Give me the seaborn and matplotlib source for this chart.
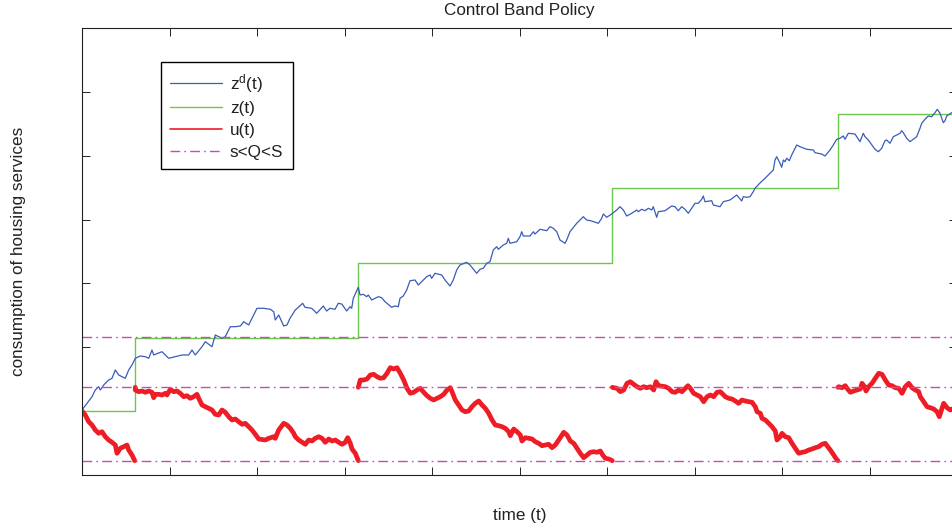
import matplotlib
matplotlib.use("Agg")
import matplotlib.pyplot as plt
from matplotlib.lines import Line2D
import numpy as np
import pandas as pd
import seaborn as sns

# Desired (frictionless) consumption z^d(t)
zd_t = [0, 10, 13.3, 16.7, 18.3, 21.7, 26.7, 30, 33.3, 36.7, 43.3, 46.7, 50, 53.3, 58.3,
        63.3, 66.7, 70, 71.7, 80, 86.7, 93.3, 100, 106.7, 110, 113.3, 120, 123.3, 130,
        133.3, 140, 143.3, 148.3, 153.3, 158.3, 161.7, 166.7, 173.3, 175, 181.7, 188.3,
        191.7, 193.3, 196.7, 201.7, 205, 208, 213.3, 220.7, 223, 229.7, 234.7, 241.3,
        244.7, 248, 253, 256.3, 259.7, 264.7, 268, 269.7, 271.3, 276.3, 278, 281.3, 284.7,
        286.3, 289.7, 293, 296.3, 299.7, 303, 309.7, 313, 316.3, 318, 321.3, 324.7, 328,
        333, 336.3, 339.7, 344.7, 348, 349.7, 353, 359.7, 363, 368, 371.3, 374.7, 378,
        384.7, 388, 394.7, 398, 401.3, 404.7, 408, 411.3, 414.7, 416.3, 421.3, 424.7,
        426.3, 428, 434.7, 438, 439.7, 441.3, 448, 451.3, 453, 458, 464.7, 468, 471.3,
        474.7, 478, 483, 484.7, 488, 494.7, 501.3, 504.7, 509.7, 516.3, 519.7, 521.3,
        524.7, 529.7, 534.7, 538, 541.3, 544.7, 549.7, 554.7, 556.3, 559.7, 563, 566.3,
        569.7, 571.3, 574.7, 576.3, 583, 589.7, 593, 596.3, 599.7, 603, 606.3, 613,
        616.3, 619.7, 621.3, 623, 629.7, 631.3, 638, 641.3, 648, 654.7, 659.7, 661.3,
        664.7, 668, 671.3, 673, 678, 683, 689.7, 691.3, 693, 694.7, 698, 699.7, 701.3,
        703, 704.7, 707.3, 709.7, 714.7, 718, 724.7, 731.3, 733, 739.7, 743, 744.7, 748,
        751.3, 754.7, 758, 761.3, 763, 766.3, 773, 774.7, 778, 781.3, 783, 786.3, 793,
        796.3, 799.7, 803, 804.7, 808, 811.3, 818, 819.7, 821.3, 824.7, 828, 831.3,
        834.7, 838, 839.7, 843, 846.3, 849.7, 853, 855.3, 858, 859.7, 861.3, 863, 864.7,
        869.7, 875]
zd = [65, 78.3, 85, 88.3, 85, 90, 95, 96.7, 105, 100, 96.7, 105, 110, 116.7, 119,
      118.3, 116.7, 125, 120, 123.3, 116.7, 118.3, 120, 120, 125, 120, 128.3, 133.3, 128.3,
      140, 136.7, 138.3, 148.3, 148.3, 149, 153.3, 150, 163.3, 166.7, 166.7, 165.7,
      163.3, 155, 160, 149, 150, 156.7, 165, 171.7, 167.7, 166.7, 161.7, 169,
      164, 166.7, 165.7, 171.7, 171, 164, 168.3, 166.7, 176.7, 187.7, 180, 180.7, 178.3,
      180, 175, 176.7, 178.3, 177.3, 173.3, 167.7, 169, 168.3, 176.7, 179, 185, 194.3,
      195, 190, 193.3, 198.3, 200, 196.7, 201.7, 200, 195, 189, 195, 205, 210,
      212.7, 210, 201.7, 205.7, 206.7, 211.7, 213.3, 225, 228.3, 225.7, 230, 231.7,
      236.7, 231.7, 233.3, 238.3, 243.3, 239, 239, 243.3, 241, 245.7, 244.3, 248.3, 246.7,
      243.3, 235, 231.7, 235, 243.3, 251.7, 258.3, 255, 254, 251.7, 256.7, 261,
      257.7, 261, 265, 268.3, 265, 259, 261.7, 265, 263.3, 265.7, 264.3, 266.7,
      265, 268.3, 257.7, 263.3, 264.3, 269, 268.3, 264.3, 268.3, 265.7, 261.7, 271.7,
      271.7, 275.7, 279, 273.3, 274.3, 270, 268.3, 273.3, 275, 280, 274, 278.3,
      277.7, 278.3, 283.3, 286.7, 292, 296.7, 303.3, 305, 315, 318.3, 311.7, 307.7, 315,
      313.3, 316.7, 314.3, 320, 330, 328.3, 325.7, 325, 322.3, 321, 319, 321, 325,
      330, 335.7, 336.7, 339, 335.7, 341.7, 341, 338.3, 333.3, 341.7, 338.3, 335, 325.7,
      323.3, 326.7, 334.3, 335, 331.7, 338.3, 341.7, 344.3, 342.3, 336.7, 333.3, 335.7,
      338.3, 346.7, 351.7, 355.7, 359, 358.3, 362.3, 365.7, 361.7, 356.7, 352.3, 354.3, 359,
      362.3, 362]

# Actual consumption z(t): adjusted in discrete jumps
z_t = [0, 52.7, 276.3, 530.3, 756, 875]
z = [64, 136.7, 211.7, 287, 360.7, 360.7]

# Control variable u(t), one run per inaction period
u_t = [0, 3.3, 6.7, 10, 13.3, 16.7, 20, 23.3, 26.7, 30, 33.3, 35, 38.3, 41.7, 45, 46.7, 50, 52.7,
       53.3, 53.3, 56.7, 60, 63.3, 66.7, 70, 71.7, 73.3, 76.7, 80, 83.3, 85, 88.3, 91.7, 95,
       98.3, 101.7, 105, 108.3, 111.7, 115, 116.7, 120, 123.3, 126.7, 130, 133.3, 136.7, 140,
       143.3, 146.7, 150, 153.3, 156.7, 160, 163.3, 166.7, 170, 173.3, 176.7, 183.3, 186.7,
       191.7, 193.3, 196.7, 201.7, 205, 208.3, 211.7, 213.3, 216.7, 223.3, 226.7, 230, 233.3,
       236.7, 240, 243.3, 246.7, 250, 253.3, 256.7, 260, 263.3, 265.7, 268.3, 270, 273.3, 276.3,
       276.3, 278.3, 281.7, 285, 288.3, 291.7, 295, 298.3, 301.7, 305, 308.3, 311.7, 315, 318.3,
       321.7, 325, 328.3, 331.7, 335, 338.3, 341.7, 345, 348.3, 351.7, 355, 358.3, 361.7, 365,
       368.3, 370, 373.3, 376.7, 380, 383.3, 386.7, 390, 393.3, 396.7, 400, 403.3, 406.7, 410,
       413.3, 416.7, 420, 423.3, 426.7, 428.3, 431.7, 435, 438.3, 440, 443.3, 446.7, 450, 453.3,
       456.7, 460, 463.3, 466.7, 470, 473.3, 476.7, 480, 481.7, 485, 488.3, 491.7, 495, 498.3,
       501.7, 505, 508.3, 511.7, 515, 518.3, 520.7, 523.3, 526.7, 530.3,
       530.3, 531.7, 535, 538.3, 541.7, 545, 548.3, 551.7, 555, 558.3, 561.7, 565, 568.3, 571.7,
       574, 576.7, 583.3, 586.7, 590, 593.3, 596.7, 600, 603.3, 606, 608.3, 611.7, 615, 618.3,
       621.7, 625, 628.3, 631.7, 635, 638.3, 640, 643.3, 646.7, 650, 653.3, 656.7, 660, 663.3,
       666.7, 670, 673.3, 675, 678.3, 680, 683.3, 686.7, 690, 693.3, 695, 698.3, 700, 703.3,
       706.7, 710, 713.3, 716.7, 720, 723.3, 726.7, 730, 733.3, 736.7, 740, 743.3, 745, 748.3,
       751.7, 755, 756,
       756, 756.7, 760, 763.3, 765, 768.3, 771.7, 775, 778.3, 780, 782.7, 784, 786.7, 790, 793.3,
       796.7, 800, 803.3, 806.7, 810, 813.3, 816.7, 820, 823.3, 826.7, 830, 833.3, 836.7, 838.3,
       841.7, 845, 848.3, 851.7, 855, 857.3, 860, 861.7, 865, 868.3, 870]
u = [64, 60, 53.3, 50, 45, 41.7, 43.3, 38.3, 35, 32.7, 30, 21.7, 26.7, 28.3, 30, 25, 20, 14.3,
     87.7, 85, 83.3, 84, 82.7, 84, 82.7, 77.3, 80.7, 80.7, 80, 81.7, 80, 85.7, 83.3, 84,
     81.7, 78.3, 79.3, 76.7, 78.3, 80.7, 76.7, 70, 68.3, 66.7, 65, 60.7, 60, 65,
     62.7, 58.3, 55, 56, 53.3, 50.7, 51.7, 48.3, 45, 40.7, 36, 35, 36.7,
     38.3, 36.7, 45, 51.7, 50, 46.7, 41.7, 38.3, 35, 30.7, 35, 34, 36.7,
     38.3, 36.7, 32.7, 36, 34, 35, 32.7, 30.7, 32.7, 37.3, 31.7, 26, 21.7, 14.3,
     87.7, 95, 95, 96, 100, 100.7, 98.3, 96.7, 97.3, 101.7, 107.3, 106, 107.3, 101.7,
     95, 86.7, 81.7, 82.7, 85, 86.7, 82.7, 79.3, 76.7, 75, 76.7, 78.3, 80.7, 85,
     87.3, 83.3, 75, 70, 65, 63.3, 64, 68.3, 71.7, 74, 70, 66.7, 61.7, 55,
     50, 49.3, 48.3, 46.7, 43.3, 39.3, 46, 43.3, 40, 34, 37.3, 36.7, 36, 33.3,
     31.7, 29.3, 30, 30.7, 27.3, 30, 35, 40, 42.7, 40, 34, 31.7, 26.7, 21.7,
     17.3, 20, 22.7, 23.3, 22.7, 24, 20, 16.7, 16, 14.3,
     87.7, 87.3, 86.7, 83.3, 85, 91.7, 93.3, 90.7, 88.3, 86.7, 88.3, 87.3, 88.3, 85,
     93.3, 89.3, 88.3, 86.7, 83.3, 82.7, 85, 83.3, 86.7, 89.3, 86.7, 81.7, 80, 78.3,
     73.3, 78.3, 80, 78.3, 82.7, 83.3, 81.7, 78.3, 76.7, 76, 74, 71.7, 75, 74,
     73.3, 72.7, 68.3, 63.3, 61.7, 56.7, 55, 51.7, 48.3, 44, 35, 38.3, 41.7, 38.3,
     37.3, 31.7, 26.7, 21.7, 22.7, 23.3, 25, 26, 27.3, 28.3, 30.7, 31.7, 29.3, 25,
     20, 15, 14.3,
     87.7, 88.3, 87.3, 89.3, 86.7, 82.7, 84, 85, 86, 91.7, 88.3, 84, 88.3, 91.7, 96.7,
     101.7, 100.7, 95, 90, 89.3, 87.3, 86.7, 81.7, 88.3, 91.7, 87.3, 85, 83.3, 78.3,
     73.3, 68.3, 67.3, 66, 63.3, 58.3, 66.7, 71.7, 67.3, 65, 66]
u_period = [1] * 18 + [2] * 70 + [3] * 80 + [4] * 73 + [5] * 40

# Band: lower trigger s, return point Q, upper trigger S
band_levels = [14.3, 87.7, 138.5]

sns.set_theme(style="white")
plt.rcParams["font.family"] = ["Liberation Sans", "DejaVu Sans"]
plt.rcParams["mathtext.fontset"] = "custom"
plt.rcParams["mathtext.rm"] = "Liberation Sans"
plt.rcParams["mathtext.it"] = "Liberation Sans"

FS = 12.3
fig = plt.figure(figsize=(9.52, 5.30), dpi=100)
ax = fig.add_axes([82 / 952, 55 / 530, 875 / 952, 447 / 530])

c_blue = "#3a5cb8"
c_green = "#6cc84c"
c_red = "#ee1c24"
c_mag = "#c050b0"

sns.lineplot(x=z_t, y=z, ax=ax, color=c_green, lw=1.0, drawstyle="steps-post",
             sort=False, estimator=None)
sns.lineplot(x=zd_t, y=zd, ax=ax, color=c_blue, lw=0.9, sort=False, estimator=None)
df_u = pd.DataFrame({"t": u_t, "u": u, "period": u_period})
sns.lineplot(data=df_u, x="t", y="u", units="period", estimator=None, sort=False,
             ax=ax, color=c_red, lw=3.4, solid_joinstyle="round", solid_capstyle="round")
for lvl in band_levels:
    ax.axhline(lvl, color=c_mag, lw=1.0, dashes=(7, 3, 1.2, 3))

ax.set_xlim(0, 875)
ax.set_ylim(0, 447)
ax.set_xticks(np.arange(0, 876, 87.5))
ax.set_yticks(np.linspace(0, 447, 8))
ax.tick_params(direction="in", length=5.8, width=0.7, color="#222222",
               top=True, right=True, bottom=True, left=True,
               labelbottom=False, labelleft=False)
for sp in ax.spines.values():
    sp.set_visible(True)
    sp.set_color("#222222")
    sp.set_linewidth(0.8)

ax.set_title("Control Band Policy", fontsize=FS, pad=9.4, color="#222222")
ax.set_xlabel("time (t)", fontsize=FS, labelpad=23.5, color="#222222")
ax.set_ylabel("consumption of housing services", fontsize=FS, labelpad=40, color="#222222")

handles = [Line2D([], [], color=c_blue, lw=0.9),
           Line2D([], [], color=c_green, lw=1.0),
           Line2D([], [], color=c_red, lw=1.2),
           Line2D([], [], color=c_mag, lw=1.0, dashes=(7, 3, 1.2, 3))]
labels = [r"$\mathregular{z^d(t)}$", "z(t)", "u(t)", "s<Q<S"]
leg = ax.legend(handles, labels, loc="upper left",
                bbox_to_anchor=((160.7 - 82) / 875, (475 - 62.3) / 447),
                borderaxespad=0, fontsize=FS, frameon=True, fancybox=False,
                framealpha=1, edgecolor="black", handlelength=3.05,
                handletextpad=0.45, labelspacing=0.4, borderpad=0.55)
leg.get_frame().set_linewidth(1.0)
for txt in leg.get_texts():
    txt.set_color("#222222")

fig.savefig("out.png", dpi=100)
